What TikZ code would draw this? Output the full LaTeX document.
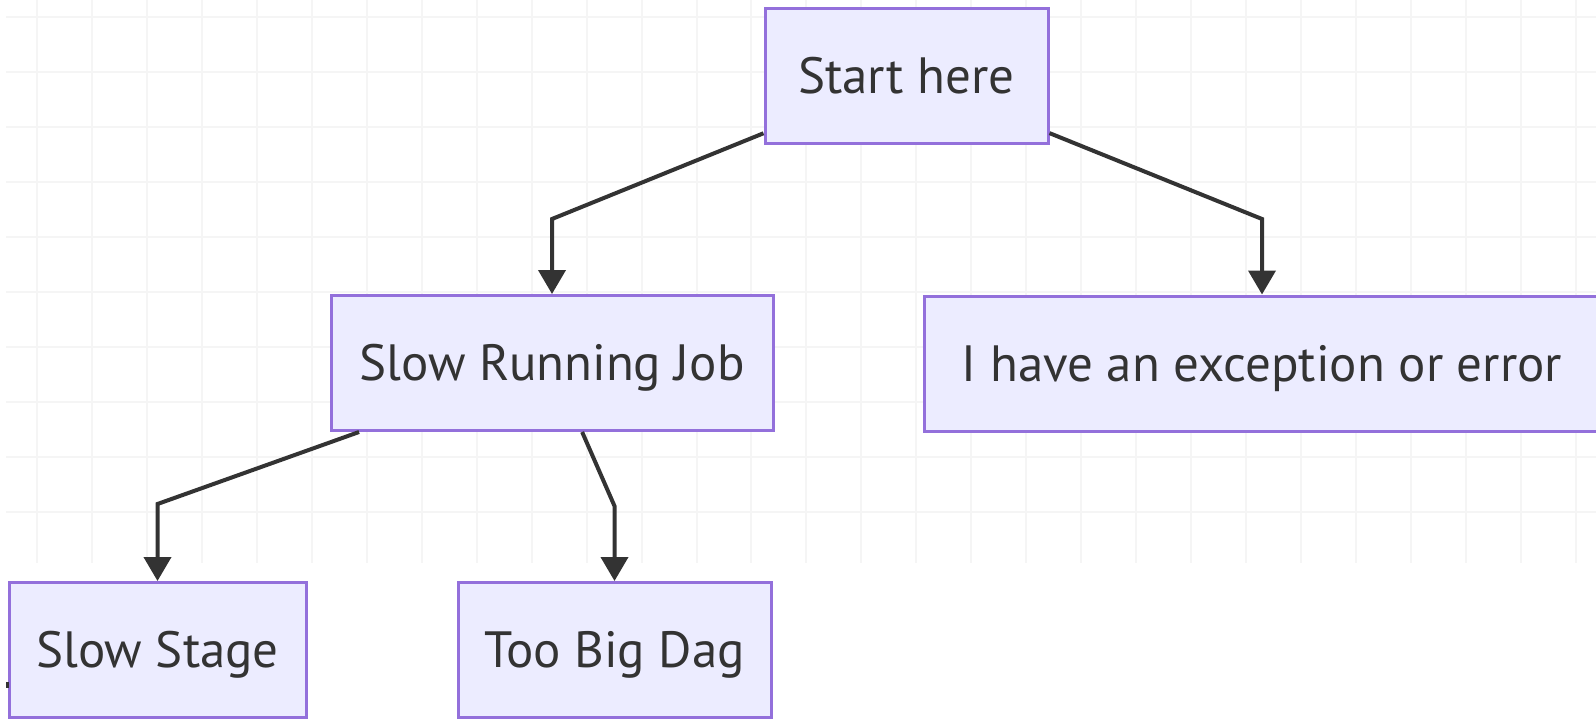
\documentclass[tikz,border=0pt]{standalone}
\usepackage{fontspec}
\setmainfont{PT Sans}
\usetikzlibrary{arrows.meta}
\definecolor{nodefill}{HTML}{ECECFF}
\definecolor{nodeline}{HTML}{9370DB}
\definecolor{ink}{HTML}{333333}
\definecolor{gridline}{HTML}{F5F5F5}
\begin{document}
\begin{tikzpicture}[x=0.5pt,y=-0.5pt,
  box/.style={draw=nodeline, fill=nodefill, line width=1.5pt, text=ink,
    font=\fontsize{25.5}{30}\selectfont, inner sep=0pt,
    minimum height=67.5pt, text height=17.8pt, text depth=0pt},
  flow/.style={draw=ink, line width=2pt,
    -{Triangle[width=13.5pt,length=12pt]}},
  gridrule/.style={draw=gridline, line width=1pt}]
\useasboundingbox (0,0) rectangle (1596,718);
\fill[white] (0,0) rectangle (1596,718);
% faint background grid
\foreach \k in {0,...,28}
  \draw[gridrule] ({37+54.96*\k},0) -- ({37+54.96*\k},563);
\foreach \k in {0,...,9}
  \draw[gridrule] (6,{17+55*\k}) -- (1596,{17+55*\k});
% nodes
\node[box, minimum width=141.5pt] (start) at (906.5,75.5) {Start here};
\node[box, minimum width=221pt]   (srj)   at (552,363)    {Slow Running Job};
\node[box, minimum width=338pt]   (exc)   at (1262,363.5) {I have an exception or error};
\node[box, minimum width=148.5pt] (stage) at (157.5,650)  {Slow Stage};
\node[box, minimum width=156.5pt] (dag)   at (614.5,650)  {Too Big Dag};
% bend points of the connectors
\coordinate (b1) at (552,219);
\coordinate (b2) at (1262,219);
\coordinate (b3) at (157.5,504);
\coordinate (b4) at (614.5,506);
% connectors
\draw[flow] (start) -- (b1) -- (srj);
\draw[flow] (start) -- (b2) -- (exc);
\draw[flow] (srj) -- (b3) -- (stage);
\draw[flow] (srj) -- (b4) -- (dag);
% small dark tick at the lower left
\fill[ink] (6,682) rectangle (9,688);
\end{tikzpicture}
\end{document}
